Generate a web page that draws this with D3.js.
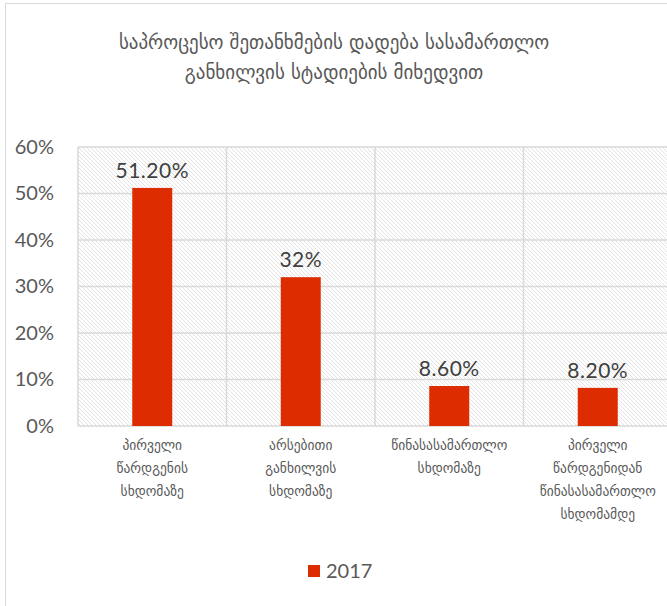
<!DOCTYPE html>
<html>
<head>
<meta charset="utf-8">
<script src="https://cdn.jsdelivr.net/npm/d3@7"></script>
<style>
  body { margin: 0; background: #fff; }
  text { fill: #595959; }
</style>
</head>
<body>
<div id="chart"></div>
<script>
var categories = [
  ["პირველი", "წარდგენის", "სხდომაზე"],
  ["არსებითი", "განხილვის", "სხდომაზე"],
  ["წინასასამართლო", "სხდომაზე"],
  ["პირველი", "წარდგენიდან", "წინასასამართლო", "სხდომამდე"]
];
var values = [0.512, 0.32, 0.086, 0.082];
var valueLabels = ["51.20%", "32%", "8.60%", "8.20%"];
var yTicks = [0, 0.1, 0.2, 0.3, 0.4, 0.5, 0.6];
var seriesName = "2017";
var titleLines = ["საპროცესო შეთანხმების დადება სასამართლო", "განხილვის სტადიების მიხედვით"];

var W = 667, H = 606;
var margin = { top: 147, left: 78, bottom: 180, right: -5 };
var width = W - margin.left - margin.right,
    height = H - margin.top - margin.bottom;

var latin = "'Lato', 'DejaVu Sans', sans-serif";
var geo = "'DejaVu Sans', sans-serif";

var svg = d3.select("#chart").append("svg")
  .attr("width", W).attr("height", H);

var defs = svg.append("defs");
var pat = defs.append("pattern")
  .attr("id", "hatch")
  .attr("patternUnits", "userSpaceOnUse")
  .attr("width", 4).attr("height", 4);
pat.append("path")
  .attr("d", "M-1,-1 L5,5 M-1,3 L1,5 M3,-1 L5,1")
  .attr("stroke", "#dcdcdc").attr("stroke-width", 0.8);

// outer chart border
svg.append("rect")
  .attr("x", 5.5).attr("y", 3.5)
  .attr("width", W + 10).attr("height", H + 10)
  .attr("fill", "none").attr("stroke", "#d9d9d9");

var title = svg.append("text")
  .attr("x", 334).attr("y", 49)
  .attr("text-anchor", "middle")
  .style("font-family", geo).style("font-size", "19px");
titleLines.forEach(function(t, i) {
  title.append("tspan").attr("x", 334).attr("dy", i ? 30 : 0).text(t);
});

var g = svg.append("g")
  .attr("transform", "translate(" + margin.left + "," + margin.top + ")");

var x = d3.scaleBand().domain(d3.range(categories.length)).range([0, width]);
var y = d3.scaleLinear().domain([0, 0.6]).range([height, 0]);

g.append("rect")
  .attr("width", width).attr("height", height)
  .attr("fill", "url(#hatch)");

// horizontal grid
g.selectAll(".hgrid").data(yTicks).enter().append("line")
  .attr("x1", 0).attr("x2", width)
  .attr("y1", function(d) { return y(d); })
  .attr("y2", function(d) { return y(d); })
  .attr("stroke", "#d9d9d9").attr("stroke-width", 1.5);

// vertical grid
g.selectAll(".vgrid").data(d3.range(categories.length + 1)).enter().append("line")
  .attr("x1", function(d) { return d * x.bandwidth(); })
  .attr("x2", function(d) { return d * x.bandwidth(); })
  .attr("y1", 0).attr("y2", height)
  .attr("stroke", "#d9d9d9").attr("stroke-width", 1.5);

var yAxis = d3.axisLeft(y).tickValues(yTicks).tickFormat(d3.format(".0%")).tickSize(0).tickPadding(24);
g.append("g").call(yAxis)
  .call(function(a) { a.select(".domain").remove(); })
  .selectAll("text")
  .style("font-family", latin).style("font-size", "20px").style("fill", "#595959");

var barW = 40;
g.selectAll(".bar").data(values).enter().append("rect")
  .attr("x", function(d, i) { return x(i) + x.bandwidth() / 2 - barW / 2; })
  .attr("y", function(d) { return y(d); })
  .attr("width", barW)
  .attr("height", function(d) { return height - y(d); })
  .attr("fill", "#dd2c00");

g.selectAll(".vlab").data(values).enter().append("text")
  .attr("x", function(d, i) { return x(i) + x.bandwidth() / 2; })
  .attr("y", function(d) { return y(d) - 10; })
  .attr("text-anchor", "middle")
  .style("font-family", latin).style("font-size", "21px").style("fill", "#404040")
  .style("letter-spacing", "0.5px")
  .text(function(d, i) { return valueLabels[i]; });

g.selectAll(".clab").data(categories).enter().append("text")
  .attr("text-anchor", "middle")
  .style("font-family", geo).style("font-size", "13.5px")
  .each(function(lines, i) {
    var t = d3.select(this);
    lines.forEach(function(l, j) {
      t.append("tspan")
        .attr("x", x(i) + x.bandwidth() / 2)
        .attr("y", height + 24 + j * 23)
        .text(l);
    });
  });

// legend
svg.append("rect")
  .attr("x", 308).attr("y", 565).attr("width", 12).attr("height", 12)
  .attr("fill", "#dd2c00");
svg.append("text")
  .attr("x", 326).attr("y", 578)
  .style("font-family", latin).style("font-size", "20px")
  .text(seriesName);
</script>
</body>
</html>
